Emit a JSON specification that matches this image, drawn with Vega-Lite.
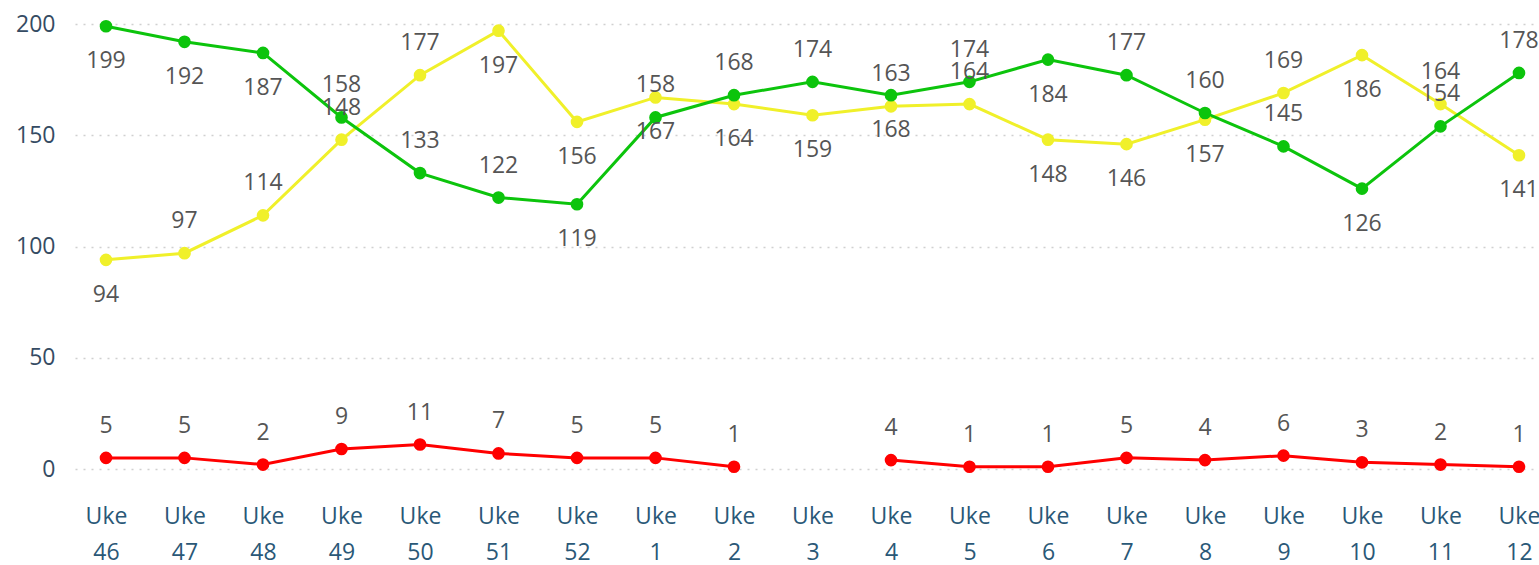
{
  "$schema": "https://vega.github.io/schema/vega-lite/v6.json",
  "autosize": "none",
  "padding": {"left": 75, "top": 24, "right": 0, "bottom": 96},
  "width": 1475,
  "height": 445,
  "background": "white",
  "config": {"view": {"stroke": null}, "font": "Open Sans"},
  "data": {"values": [
    {"week": "Uke 46", "s": "Y", "value": 94}, {"week": "Uke 47", "s": "Y", "value": 97}, {"week": "Uke 48", "s": "Y", "value": 114},
    {"week": "Uke 49", "s": "Y", "value": 148}, {"week": "Uke 50", "s": "Y", "value": 177}, {"week": "Uke 51", "s": "Y", "value": 197},
    {"week": "Uke 52", "s": "Y", "value": 156}, {"week": "Uke 1", "s": "Y", "value": 167}, {"week": "Uke 2", "s": "Y", "value": 164},
    {"week": "Uke 3", "s": "Y", "value": 159}, {"week": "Uke 4", "s": "Y", "value": 163}, {"week": "Uke 5", "s": "Y", "value": 164},
    {"week": "Uke 6", "s": "Y", "value": 148}, {"week": "Uke 7", "s": "Y", "value": 146}, {"week": "Uke 8", "s": "Y", "value": 157},
    {"week": "Uke 9", "s": "Y", "value": 169}, {"week": "Uke 10", "s": "Y", "value": 186}, {"week": "Uke 11", "s": "Y", "value": 164},
    {"week": "Uke 12", "s": "Y", "value": 141},
    {"week": "Uke 46", "s": "G", "value": 199}, {"week": "Uke 47", "s": "G", "value": 192}, {"week": "Uke 48", "s": "G", "value": 187},
    {"week": "Uke 49", "s": "G", "value": 158}, {"week": "Uke 50", "s": "G", "value": 133}, {"week": "Uke 51", "s": "G", "value": 122},
    {"week": "Uke 52", "s": "G", "value": 119}, {"week": "Uke 1", "s": "G", "value": 158}, {"week": "Uke 2", "s": "G", "value": 168},
    {"week": "Uke 3", "s": "G", "value": 174}, {"week": "Uke 4", "s": "G", "value": 168}, {"week": "Uke 5", "s": "G", "value": 174},
    {"week": "Uke 6", "s": "G", "value": 184}, {"week": "Uke 7", "s": "G", "value": 177}, {"week": "Uke 8", "s": "G", "value": 160},
    {"week": "Uke 9", "s": "G", "value": 145}, {"week": "Uke 10", "s": "G", "value": 126}, {"week": "Uke 11", "s": "G", "value": 154},
    {"week": "Uke 12", "s": "G", "value": 178},
    {"week": "Uke 46", "s": "R", "value": 5}, {"week": "Uke 47", "s": "R", "value": 5}, {"week": "Uke 48", "s": "R", "value": 2},
    {"week": "Uke 49", "s": "R", "value": 9}, {"week": "Uke 50", "s": "R", "value": 11}, {"week": "Uke 51", "s": "R", "value": 7},
    {"week": "Uke 52", "s": "R", "value": 5}, {"week": "Uke 1", "s": "R", "value": 5}, {"week": "Uke 2", "s": "R", "value": 1},
    {"week": "Uke 3", "s": "R", "value": null}, {"week": "Uke 4", "s": "R", "value": 4}, {"week": "Uke 5", "s": "R", "value": 1},
    {"week": "Uke 6", "s": "R", "value": 1}, {"week": "Uke 7", "s": "R", "value": 5}, {"week": "Uke 8", "s": "R", "value": 4},
    {"week": "Uke 9", "s": "R", "value": 6}, {"week": "Uke 10", "s": "R", "value": 3}, {"week": "Uke 11", "s": "R", "value": 2},
    {"week": "Uke 12", "s": "R", "value": 1}
  ]},
  "encoding": {
    "x": {
      "field": "week", "type": "ordinal",
      "scale": {"type": "point", "padding": 0.395, "domain": ["Uke 46","Uke 47","Uke 48","Uke 49","Uke 50","Uke 51","Uke 52","Uke 1","Uke 2","Uke 3","Uke 4","Uke 5","Uke 6","Uke 7","Uke 8","Uke 9","Uke 10","Uke 11","Uke 12"]},
      "axis": {"title": null, "labelAngle": 0, "domain": false, "ticks": false, "labelPadding": 36, "labelFontSize": 23, "labelLineHeight": 36, "labelColor": "#2a5877", "labelExpr": "split(datum.label, ' ')"}
    },
    "y": {
      "field": "value", "type": "quantitative",
      "scale": {"domain": [0, 200], "nice": false},
      "axis": {"title": null, "values": [0, 50, 100, 150, 200], "domain": false, "ticks": false, "labelPadding": 20, "labelFontSize": 23, "labelColor": "#354b63", "gridDash": [2, 6], "gridColor": "#d0d0d0", "gridWidth": 1.5}
    },
    "color": {"field": "s", "type": "nominal", "legend": null, "scale": {"domain": ["Y", "G", "R"], "range": ["#f0f02a", "#0cc40c", "#ff0000"]}}
  },
  "layer": [
    {"mark": {"type": "line", "strokeWidth": 3}},
    {"mark": {"type": "point", "filled": true, "size": 160, "opacity": 1}},
    {
      "transform": [
        {"filter": "datum.value != null"},
        {"filter": "!((datum.s=='G' && indexof(['Uke 46','Uke 47','Uke 48','Uke 52','Uke 4','Uke 6','Uke 10'], datum.week) >= 0) || (datum.s=='Y' && indexof(['Uke 46','Uke 51','Uke 52','Uke 1','Uke 2','Uke 3','Uke 6','Uke 7','Uke 8','Uke 10','Uke 12'], datum.week) >= 0))"}
      ],
      "mark": {"type": "text", "dy": -32, "fontSize": 23, "baseline": "middle", "color": "#555555"},
      "encoding": {"text": {"field": "value", "type": "quantitative"}, "color": {"value": "#555555"}}
    },
    {
      "transform": [
        {"filter": "datum.value != null"},
        {"filter": "(datum.s=='G' && indexof(['Uke 46','Uke 47','Uke 48','Uke 52','Uke 4','Uke 6','Uke 10'], datum.week) >= 0) || (datum.s=='Y' && indexof(['Uke 46','Uke 51','Uke 52','Uke 1','Uke 2','Uke 3','Uke 6','Uke 7','Uke 8','Uke 10','Uke 12'], datum.week) >= 0)"}
      ],
      "mark": {"type": "text", "dy": 35, "fontSize": 23, "baseline": "middle", "color": "#555555"},
      "encoding": {"text": {"field": "value", "type": "quantitative"}, "color": {"value": "#555555"}}
    }
  ]
}
